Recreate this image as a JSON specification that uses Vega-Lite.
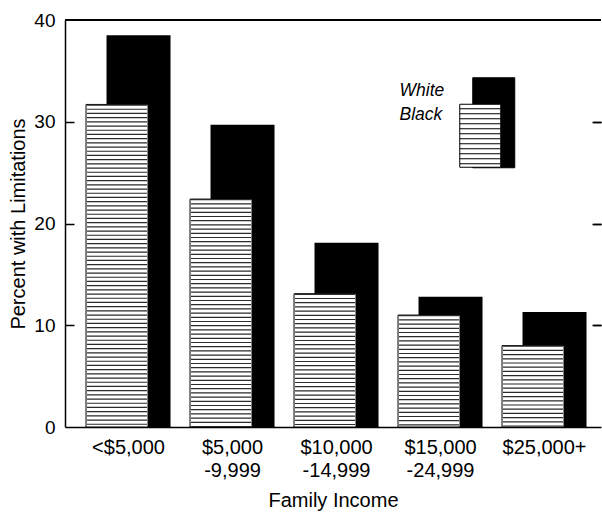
{
  "$schema": "https://vega.github.io/schema/vega-lite/v6.json",
  "width": 536,
  "height": 407,
  "autosize": {"type": "none"},
  "padding": {"left": 65, "top": 20, "right": 1, "bottom": 85},
  "background": "white",
  "config": {
    "view": {"stroke": null},
    "font": "Liberation Sans",
    "axis": {"labelColor": "black", "titleColor": "black", "titleFontWeight": "normal"}
  },
  "data": {
    "values": [
      {"income": "<$5,000", "race": "White", "pct": 38.5},
      {"income": "<$5,000", "race": "Black", "pct": 31.7},
      {"income": "$5,000 -9,999", "race": "White", "pct": 29.7},
      {"income": "$5,000 -9,999", "race": "Black", "pct": 22.4},
      {"income": "$10,000 -14,999", "race": "White", "pct": 18.1},
      {"income": "$10,000 -14,999", "race": "Black", "pct": 13.1},
      {"income": "$15,000 -24,999", "race": "White", "pct": 12.8},
      {"income": "$15,000 -24,999", "race": "Black", "pct": 11.0},
      {"income": "$25,000+", "race": "White", "pct": 11.3},
      {"income": "$25,000+", "race": "Black", "pct": 8.0}
    ]
  },
  "resolve": {"scale": {"color": "independent"}, "axis": {"y": "independent"}},
  "layer": [
    {
      "transform": [{"filter": "datum.race === 'White'"}],
      "mark": {"type": "bar", "width": 64, "xOffset": 10},
      "encoding": {
        "x": {
          "field": "income", "type": "nominal", "sort": null,
          "scale": {"paddingInner": 0, "paddingOuter": 0.077, "align": 0.72},
          "axis": {
            "orient": "bottom", "ticks": false, "grid": false, "domainColor": "black", "domainWidth": 1.5,
            "labelAngle": 0, "labelFontSize": 20, "labelPadding": 10, "labelLineHeight": 23,
            "labelExpr": "split(datum.label, ' ')",
            "titleFontSize": 20, "titlePadding": 10
          },
          "title": "Family Income"
        },
        "y": {
          "field": "pct", "type": "quantitative",
          "scale": {"domain": [0, 40], "nice": false},
          "axis": {
            "orient": "left", "values": [0, 10, 20, 30, 40], "ticks": false, "grid": false,
            "domainColor": "black", "domainWidth": 1.5,
            "labelFontSize": 19, "labelPadding": 10, "titleFontSize": 20, "titlePadding": 5
          },
          "title": "Percent with Limitations"
        },
        "color": {
          "field": "race", "type": "nominal",
          "scale": {"domain": ["White"], "range": ["black"]},
          "legend": {
            "orient": "none", "legendX": 326, "legendY": 62, "title": null, "padding": 0,
            "symbolType": "M73,-13H115V77H73Z", "symbolSize": 4,
            "symbolStrokeColor": "black", "symbolStrokeWidth": 1,
            "labelFontStyle": "italic", "labelFontSize": 17.5, "labelOffset": -9, "labelColor": "black"
          }
        }
      }
    },
    {
      "transform": [{"filter": "datum.race === 'Black'"}],
      "mark": {"type": "bar", "width": 62, "xOffset": -11.5, "stroke": "black", "strokeWidth": 1},
      "encoding": {
        "x": {
          "field": "income", "type": "nominal", "sort": null,
          "scale": {"paddingInner": 0, "paddingOuter": 0.077, "align": 0.72},
          "axis": {
            "orient": "bottom", "ticks": false, "grid": false, "domainColor": "black", "domainWidth": 1.5,
            "labelAngle": 0, "labelFontSize": 20, "labelPadding": 10, "labelLineHeight": 23,
            "labelExpr": "split(datum.label, ' ')",
            "titleFontSize": 20, "titlePadding": 10
          },
          "title": "Family Income"
        },
        "y": {"field": "pct", "type": "quantitative", "axis": null},
        "color": {
          "field": "race", "type": "nominal",
          "scale": {"domain": ["Black"], "range": ["white"]},
          "legend": {
            "orient": "none", "legendX": 326, "legendY": 86, "title": null, "padding": 0,
            "symbolType": "M60,-10.5H101V52.5H60Z M60,-6H101 M60,-1H101 M60,4H101 M60,9H101 M60,14H101 M60,19H101 M60,24H101 M60,29H101 M60,34H101 M60,39H101 M60,44H101 M60,49H101",
            "symbolSize": 4,
            "symbolStrokeColor": "black", "symbolStrokeWidth": 1,
            "labelFontStyle": "italic", "labelFontSize": 17.5, "labelOffset": -9, "labelColor": "black"
          }
        }
      }
    },
    {
      "transform": [{"filter": "datum.race === 'Black'"}],
      "mark": {"type": "rule", "xOffset": -11.5, "strokeWidth": 60, "strokeDash": [1.2, 3], "color": "#2a2a2a", "strokeCap": "butt"},
      "encoding": {
        "x": {
          "field": "income", "type": "nominal", "sort": null,
          "scale": {"paddingInner": 0, "paddingOuter": 0.077, "align": 0.72},
          "axis": {
            "orient": "bottom", "ticks": false, "grid": false, "domainColor": "black", "domainWidth": 1.5,
            "labelAngle": 0, "labelFontSize": 20, "labelPadding": 10, "labelLineHeight": 23,
            "labelExpr": "split(datum.label, ' ')",
            "titleFontSize": 20, "titlePadding": 10
          },
          "title": "Family Income"
        },
        "y": {"field": "pct", "type": "quantitative", "axis": null},
        "y2": {"datum": 0}
      }
    },
    {
      "mark": {"type": "rule", "strokeWidth": 1.5, "color": "black"},
      "encoding": {
        "y": {
          "datum": 40, "type": "quantitative",
          "axis": {
            "orient": "right", "values": [10, 20, 30], "labels": false, "domain": false,
            "tickSize": -8, "tickColor": "black", "tickWidth": 1.5, "title": null,
            "grid": true, "gridColor": "black", "gridWidth": 1.5, "gridDash": [9, 518, 9, 2000]
          }
        }
      }
    }
  ]
}
